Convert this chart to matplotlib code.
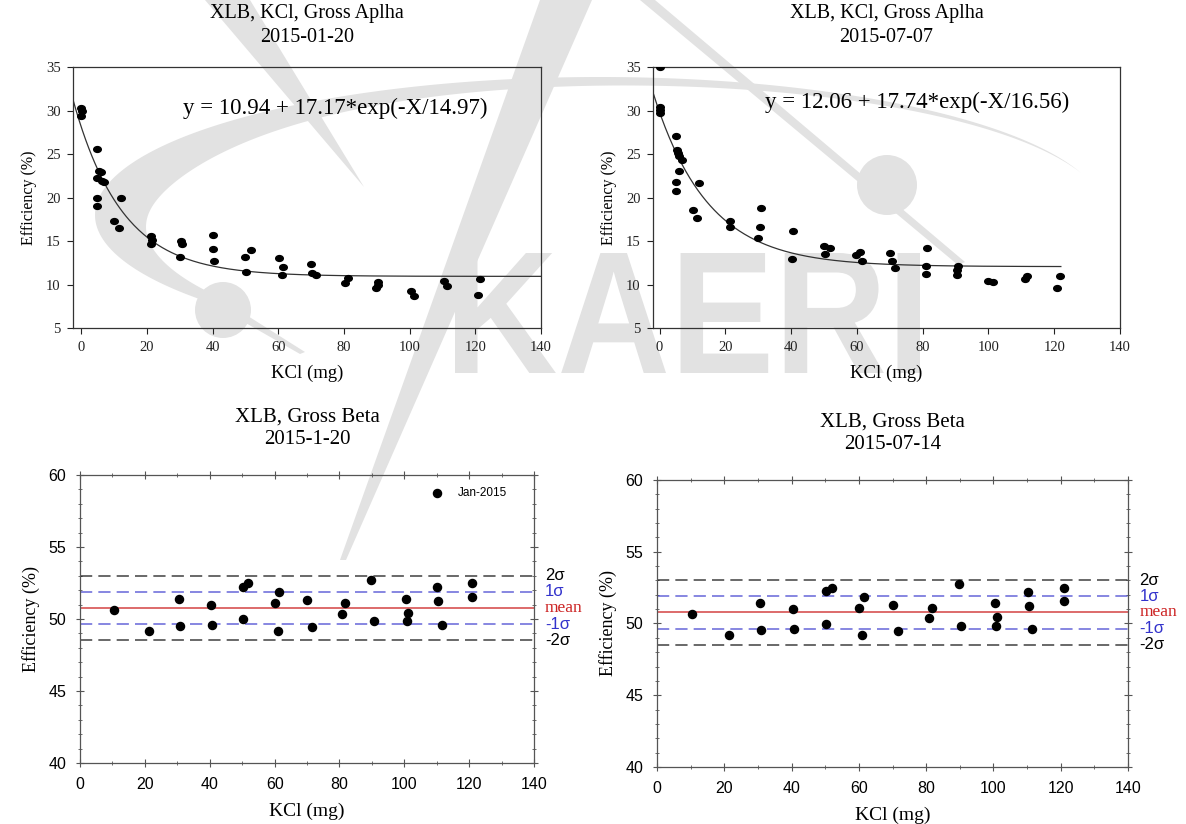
import numpy as np
import matplotlib
matplotlib.use("Agg")
import matplotlib.pyplot as plt
from matplotlib.path import Path
from matplotlib.patches import Polygon, Circle, PathPatch
from matplotlib.textpath import TextPath
from matplotlib.font_manager import FontProperties
from matplotlib.transforms import Affine2D

# ---- data: top panels (gross alpha efficiency vs KCl mass) ----
alpha_jan_x = [0, 0, 0.3, 4.8, 5.3, 6.1, 4.7, 6.3, 7.0, 4.9, 4.9, 12.0, 10.1, 11.4,
               21.2, 21.5, 21.2, 30.5, 30.7, 30.0, 40.2, 40.0, 40.4, 49.9, 51.7, 50.1,
               60.1, 61.3, 61.0, 69.9, 70.2, 71.5, 81.3, 80.4, 90.3, 90.3, 89.7,
               100.5, 101.2, 110.4, 111.4, 121.5, 120.8]
alpha_jan_y = [30.3, 29.4, 29.9, 25.6, 23.1, 22.9, 22.2, 21.9, 21.8, 19.9, 19.0, 20.0, 17.3, 16.5,
               15.6, 15.1, 14.7, 15.0, 14.7, 13.2, 15.7, 14.1, 12.7, 13.2, 14.0, 11.4,
               13.1, 12.0, 11.1, 12.4, 11.3, 11.1, 10.8, 10.2, 10.3, 9.9, 9.55,
               9.25, 8.65, 10.4, 9.8, 10.6, 8.8]
alpha_jan_fit = (10.94, 17.17, 14.97)

alpha_jul_x = [0, 0, 0, 0, 5.0, 5.2, 5.6, 5.9, 6.7, 5.9, 5.0, 5.0, 12.0, 10.1, 11.5,
               21.5, 21.3, 30.8, 30.4, 30.0, 40.7, 40.2, 50.1, 51.8, 50.3,
               59.8, 60.8, 61.5, 70.1, 70.6, 71.6, 81.4, 81.1, 80.9, 90.7, 90.4, 90.4,
               100.0, 101.4, 111.0, 111.6, 121.8, 120.8]
alpha_jul_y = [35.0, 30.4, 30.1, 29.75, 27.1, 25.5, 25.1, 24.8, 24.3, 23.0, 21.8, 20.7, 21.65, 18.6, 17.7,
               17.35, 16.6, 18.85, 16.6, 15.3, 16.1, 12.9, 14.4, 14.2, 13.5,
               13.4, 13.7, 12.7, 13.6, 12.7, 11.9, 14.2, 12.1, 11.2, 12.1, 11.7, 11.1,
               10.35, 10.25, 10.65, 10.95, 10.95, 9.6]
alpha_jul_fit = (12.06, 17.74, 16.56)

# ---- data: bottom panels (gross beta control chart) ----
beta_x = [10.4, 21.4, 30.6, 30.8, 40.3, 40.6, 50.2, 51.9, 50.3, 60.1, 61.4, 61.0,
          70.1, 71.6, 80.9, 81.6, 89.8, 90.5, 100.6, 101.2, 100.8, 110.2, 110.5, 111.6,
          120.9, 120.9]
beta_y = [50.64, 49.18, 51.42, 49.55, 50.98, 49.6, 52.25, 52.49, 49.99, 51.08, 51.86, 49.2,
          51.31, 49.48, 50.38, 51.08, 52.74, 49.83, 51.42, 50.45, 49.85, 52.21, 51.24, 49.6,
          52.49, 51.54]
beta_mean = 50.77
beta_sd = 1.12

serif = "Liberation Serif"
sans = "Liberation Sans"
W, H = 1186, 824

fig = plt.figure(figsize=(11.86, 8.24), dpi=100)

# ---- faint KAERI watermark (pixel coords, y measured from the top) ----
bg = fig.add_axes([0, 0, 1, 1], zorder=-10)
bg.set_xlim(0, W)
bg.set_ylim(0, H)
bg.axis("off")
wm = "#e2e2e2"


def flip(pts):
    pts = np.asarray(pts, float)
    return np.column_stack([pts[:, 0], H - pts[:, 1]])


t = np.radians(np.linspace(140, 342, 300))
tc = np.degrees(t)
w = 48 * np.exp(-((tc - 188) / 40.0) ** 2) + 12 * np.sin(np.pi * (tc - 140) / 202.0)
ox, oy = 600 + 505 * np.cos(t), 215 + 138 * np.sin(t)
ix, iy = 600 + (505 - w) * np.cos(t), 215 + (138 - w * 0.75) * np.sin(t)
bg.add_patch(Polygon(flip(np.column_stack([np.r_[ox, ix[::-1]], np.r_[oy, iy[::-1]]])),
                     closed=True, color=wm, lw=0))
bg.add_patch(Polygon(flip([[540, 0], [592, 0], [346, 560], [340, 560]]), closed=True, color=wm, lw=0))
bg.add_patch(Polygon(flip([[205, 0], [250, 0], [364, 187]]), closed=True, color=wm, lw=0))
bg.add_patch(Polygon(flip([[640, 0], [655, 0], [965, 262], [958, 265]]), closed=True, color=wm, lw=0))
bg.add_patch(Polygon(flip([[223, 310], [232, 306], [305, 352], [300, 354]]), closed=True, color=wm, lw=0))
bg.add_patch(Circle((223, H - 310), 28, color=wm, lw=0))
bg.add_patch(Circle((887, H - 185), 30, color=wm, lw=0))

tp = TextPath((0, 0), "KAERI", size=100, prop=FontProperties(family=sans, weight="bold"))
ext = tp.get_extents()
sx = (920 - 455) / ext.width
sy = (373 - 253) / ext.height
tp = tp.transformed(Affine2D().translate(-ext.x0, -ext.y0).scale(sx, sy).translate(455, H - 373))
bg.add_patch(PathPatch(tp, color=wm, lw=0))

# slightly wide dot, like the scanned originals
circ = Path.unit_circle()
dot = Path(circ.vertices * [1.3, 1.0], circ.codes)


def alpha_panel(rect, xs, ys, fit, x_end, xmin, title, eq_xy):
    ax = fig.add_axes(rect)
    ax.set_facecolor("none")
    ax.scatter(xs, ys, marker=dot, s=30, color="black", zorder=3)
    xx = np.linspace(xmin, x_end, 300)
    a, b, c = fit
    ax.plot(xx, a + b * np.exp(-xx / c), color="#333333", lw=0.9)
    ax.set_xlim(xmin, 140)
    ax.set_ylim(5, 35)
    ax.set_xticks(range(0, 141, 20))
    ax.set_yticks(range(5, 36, 5))
    ax.tick_params(direction="out", length=4, width=0.8, labelsize=10.5, pad=5, colors="#222222")
    for lab in ax.get_xticklabels() + ax.get_yticklabels():
        lab.set_family(serif)
    for sp in ax.spines.values():
        sp.set_linewidth(0.9)
        sp.set_color("#333333")
    ax.set_xlabel("KCl (mg)", family=serif, fontsize=13.5, labelpad=8)
    ax.set_ylabel("Efficiency (%)", family=serif, fontsize=11.5, labelpad=6)
    ax.set_title(title, family=serif, fontsize=14.5, linespacing=1.35, pad=18)
    ax.text(eq_xy[0], eq_xy[1], "y = %.2f + %.2f*exp(-X/%.2f)" % fit,
            family=serif, fontsize=16.5, va="center")
    return ax


def beta_panel(rect, title, legend):
    ax = fig.add_axes(rect)
    ax.set_facecolor("none")
    ax.scatter(beta_x, beta_y, s=34, color="black", zorder=3, label="Jan-2015")
    levels = [(2, "black", "--", "2\u03c3", sans),
              (1, "#3333cc", "--", "1\u03c3", sans),
              (0, "#cc2222", "-", "mean", serif),
              (-1, "#3333cc", "--", "-1\u03c3", sans),
              (-2, "black", "--", "-2\u03c3", sans)]
    for k, col, ls, lab, fam in levels:
        yv = beta_mean + k * beta_sd
        if ls == "--":
            ax.axhline(yv, color=col, lw=1.1, ls=(0, (8, 4)), alpha=0.75)
        else:
            ax.axhline(yv, color=col, lw=1.1, alpha=0.85)
        ax.text(1.024, yv, lab, transform=ax.get_yaxis_transform(), color=col,
                family=fam, fontsize=12.5 if fam == serif else 12, va="center", ha="left",
                clip_on=False)
    ax.set_xlim(0, 140)
    ax.set_ylim(40, 60)
    ax.set_xticks(range(0, 141, 20))
    ax.set_xticks(range(0, 141, 10), minor=True)
    ax.set_yticks(range(40, 61, 5))
    ax.set_yticks(range(40, 61, 1), minor=True)
    ax.tick_params(which="both", direction="inout", top=True, right=True,
                   colors="#555555", labelcolor="black")
    ax.tick_params(which="major", length=6, width=0.8, labelsize=11.5, pad=7)
    ax.tick_params(which="minor", length=3, width=0.6)
    for lab in ax.get_xticklabels() + ax.get_yticklabels():
        lab.set_family(sans)
    for sp in ax.spines.values():
        sp.set_linewidth(0.9)
        sp.set_color("#555555")
    ax.set_xlabel("KCl (mg)", family=serif, fontsize=14, labelpad=8)
    ax.set_ylabel("Efficiency (%)", family=serif, fontsize=13, labelpad=6)
    ax.set_title(title, family=serif, fontsize=15, linespacing=1.3, pad=22)
    if legend:
        ax.legend(loc="center left", bbox_to_anchor=(0.773, 0.9375), frameon=False,
                  prop={"family": sans, "size": 8.5}, handlelength=1.0, handletextpad=1.3,
                  borderpad=0, borderaxespad=0)
    return ax


alpha_panel([0.0616, 0.6019, 0.3946, 0.3167], alpha_jan_x, alpha_jan_y, alpha_jan_fit,
            140, -2.5, "XLB, KCl, Gross Aplha\n2015-01-20", (31, 30.3))
alpha_panel([0.5506, 0.6019, 0.3938, 0.3167], alpha_jul_x, alpha_jul_y, alpha_jul_fit,
            122, -2, "XLB, KCl, Gross Aplha\n2015-07-07", (32, 30.9))
beta_panel([0.0675, 0.0740, 0.3828, 0.3495], "XLB, Gross Beta\n2015-1-20", True)
beta_panel([0.5540, 0.0692, 0.3971, 0.3483], "XLB, Gross Beta\n2015-07-14", False)

fig.savefig("out.png", dpi=100)
